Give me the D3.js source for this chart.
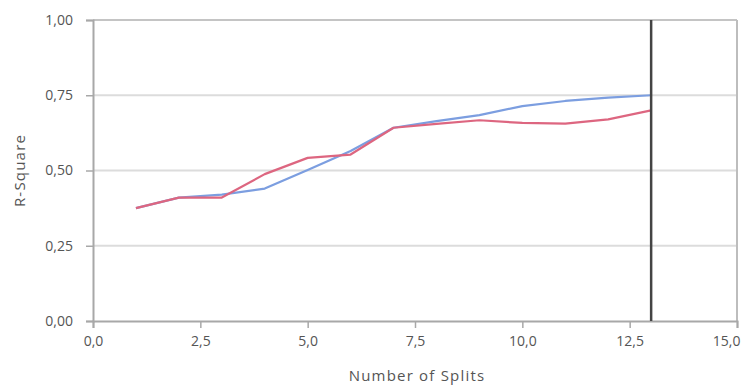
<!DOCTYPE html>
<html>
<head>
<meta charset="utf-8">
<script src="https://cdn.jsdelivr.net/npm/d3@7"></script>
<style>
  body { margin: 0; background: #fff; }
  svg text { font-family: "Open Sans", sans-serif; fill: #555; }
</style>
</head>
<body>
<div id="chart"></div>
<script>
// number of splits on the x axis
const splits = [1, 2, 3, 4, 5, 6, 7, 8, 9, 10, 11, 12, 13];
// R-Square per split
const blueValues = [0.375, 0.41, 0.42, 0.44, 0.502, 0.565, 0.642, 0.664, 0.684, 0.714, 0.731, 0.742, 0.75];
const redValues = [0.375, 0.41, 0.41, 0.488, 0.542, 0.553, 0.642, 0.655, 0.667, 0.658, 0.656, 0.67, 0.70];
const xTicks = [0, 2.5, 5, 7.5, 10, 12.5, 15];
const yTicks = [0, 0.25, 0.5, 0.75, 1];
const markerSplit = 13;

const width = 749, height = 389;
const margin = { top: 20, right: 12, bottom: 68, left: 93 };
const innerW = width - margin.left - margin.right;
const innerH = height - margin.top - margin.bottom;

const fmt = (d, n) => d.toFixed(n).replace(".", ",");

const svg = d3.select("#chart").append("svg")
  .attr("width", width).attr("height", height);
const g = svg.append("g").attr("transform", `translate(${margin.left},${margin.top})`);

const x = d3.scaleLinear().domain([0, 15]).range([0, innerW]);
const y = d3.scaleLinear().domain([0, 1]).range([innerH, 0]);

// horizontal gridlines
g.append("g").selectAll("line").data(yTicks.filter(d => d > 0)).enter().append("line")
  .attr("x1", 0).attr("x2", innerW)
  .attr("y1", d => y(d)).attr("y2", d => y(d))
  .attr("stroke", d => d === 1 ? "#c4c4c4" : "#dcdcdc")
  .attr("stroke-width", 2);

// right frame
g.append("line")
  .attr("x1", innerW).attr("x2", innerW).attr("y1", 0).attr("y2", innerH)
  .attr("stroke", "#bdbdbd").attr("stroke-width", 2);

// axes
const yAxis = g.append("g")
  .call(d3.axisLeft(y).tickValues(yTicks).tickFormat(d => fmt(d, 2)).tickSize(7).tickPadding(13));
const xAxis = g.append("g").attr("transform", `translate(0,${innerH})`)
  .call(d3.axisBottom(x).tickValues(xTicks).tickFormat(d => fmt(d, 1)).tickSize(7).tickPadding(8));

[yAxis, xAxis].forEach(a => {
  a.select(".domain").attr("stroke", "#a8a8a8").attr("stroke-width", 2);
  a.selectAll(".tick line").attr("stroke", "#a8a8a8").attr("stroke-width", 1.5);
  a.selectAll(".tick text").style("font-size", "14px").attr("fill", "#555");
});
// last x label sits left of its tick so it stays inside the page
xAxis.selectAll(".tick text").filter(d => d === 15)
  .attr("text-anchor", "end").attr("dx", 3);

// lines
const line = d3.line()
  .x((d, i) => x(splits[i]))
  .y(d => y(d));

g.append("path").datum(blueValues)
  .attr("fill", "none").attr("stroke", "#7c9ee0").attr("stroke-width", 2.2)
  .attr("stroke-linejoin", "round")
  .attr("d", line);
g.append("path").datum(redValues)
  .attr("fill", "none").attr("stroke", "#dd6680").attr("stroke-width", 2.2)
  .attr("stroke-linejoin", "round")
  .attr("d", line);

// vertical marker at selected split
g.append("line")
  .attr("x1", x(markerSplit)).attr("x2", x(markerSplit))
  .attr("y1", 0).attr("y2", innerH)
  .attr("stroke", "#444").attr("stroke-width", 2.5);

// axis titles
svg.append("text")
  .attr("x", margin.left + innerW / 2 + 2).attr("y", 381)
  .attr("text-anchor", "middle").style("font-size", "15px")
  .style("letter-spacing", "1.2px")
  .text("Number of Splits");

svg.append("text")
  .attr("transform", `translate(25,${margin.top + innerH / 2}) rotate(-90)`)
  .attr("text-anchor", "middle").style("font-size", "15px")
  .style("letter-spacing", "1.2px")
  .text("R-Square");
</script>
</body>
</html>
